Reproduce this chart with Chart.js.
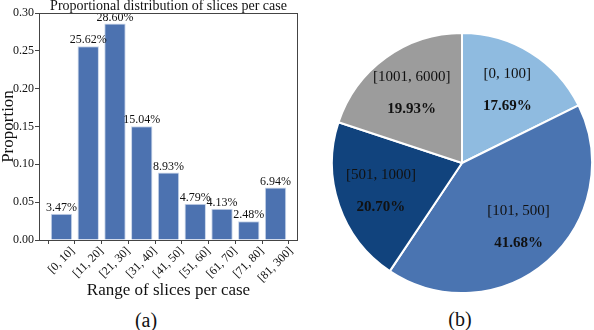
<!DOCTYPE html>
<html>
<head>
<meta charset="utf-8">
<script src="https://cdn.jsdelivr.net/npm/chart.js@4.4.1/dist/chart.umd.min.js"></script>
<style>
  body { margin: 0; background: #fff; width: 594px; height: 330px; position: relative; overflow: hidden; font-family: "Liberation Serif", "Times New Roman", serif; }
  #barBox { position: absolute; left: 0; top: 0; width: 300px; height: 301px; }
  #pieBox { position: absolute; left: 331px; top: 32px; width: 262px; height: 262px; }
  .cap { position: absolute; font-size: 20px; color: #111; transform: translate(-50%, -50%); }
</style>
</head>
<body>
<div id="barBox"><canvas id="bar"></canvas></div>
<div id="pieBox"><canvas id="pie"></canvas></div>
<div class="cap" style="left:146px; top:320px;">(a)</div>
<div class="cap" style="left:460px; top:319px;">(b)</div>

<script>
const serif = "'Liberation Serif', 'Times New Roman', serif";

// left chart: proportion of cases by number of slices
const sliceRanges = ["[0, 10]", "[11, 20]", "[21, 30]", "[31, 40]", "[41, 50]", "[51, 60]", "[61, 70]", "[71, 80]", "[81, 300]"];
const sliceProps = [0.0347, 0.2562, 0.2860, 0.1504, 0.0893, 0.0479, 0.0413, 0.0248, 0.0694];
const yTicks = [0, 0.05, 0.10, 0.15, 0.20, 0.25, 0.30];

// right chart: same thing with bigger ranges
const pieRanges = ["[0, 100]", "[101, 500]", "[501, 1000]", "[1001, 6000]"];
const piePcts = [17.69, 41.68, 20.70, 19.93];
const pieColors = ["#8fbbe0", "#4a74b1", "#11437d", "#9c9c9c"];

const frame = {
  id: "frame",
  afterDraw(chart) {
    const a = chart.chartArea;
    const ctx = chart.ctx;
    ctx.save();
    ctx.strokeStyle = "#444";
    ctx.lineWidth = 1;
    ctx.strokeRect(Math.round(a.left) + 0.5, Math.round(a.top) + 0.5, Math.round(a.right - a.left) - 1, Math.round(a.bottom - a.top));
    ctx.restore();
  }
};

// value on top of each bar + rotated category names centred under the ticks
const barLabels = {
  id: "barLabels",
  afterDatasetsDraw(chart) {
    const ctx = chart.ctx;
    const meta = chart.getDatasetMeta(0);
    ctx.save();
    ctx.font = "12px " + serif;
    ctx.fillStyle = "#111";
    ctx.textAlign = "center";
    ctx.textBaseline = "bottom";
    meta.data.forEach((bar, i) => {
      ctx.fillText((sliceProps[i] * 100).toFixed(2) + "%", bar.x, bar.y);
    });

    const xs = chart.scales.x;
    const top = chart.chartArea.bottom + 5;
    const fh = 12;
    ctx.textBaseline = "middle";
    sliceRanges.forEach((lab, i) => {
      const w = ctx.measureText(lab).width;
      const h = (w + fh) * Math.SQRT1_2;
      ctx.save();
      ctx.translate(xs.getPixelForValue(i), top + h / 2);
      ctx.rotate(-Math.PI / 4);
      ctx.fillText(lab, 0, 0);
      ctx.restore();
    });
    ctx.restore();
  }
};

const barChart = new Chart(document.getElementById("bar"), {
  type: "bar",
  data: {
    datasets: [{
      data: sliceProps.map((v, i) => ({ x: i, y: v })),
      backgroundColor: "#4c72b0",
      borderColor: "#c9d6ea",
      borderWidth: 1,
      barPercentage: 0.8,
      categoryPercentage: 1
    }]
  },
  options: {
    responsive: true,
    maintainAspectRatio: false,
    animation: false,
    layout: { padding: { left: 0, right: 2, top: 0, bottom: 0 } },
    plugins: {
      legend: { display: false },
      tooltip: { enabled: false },
      title: {
        display: true,
        fullSize: false,
        text: "Proportional distribution of slices per case",
        color: "#111",
        font: { family: serif, size: 14, weight: "normal", lineHeight: 0.93 },
        padding: 0
      }
    },
    scales: {
      x: {
        type: "linear",
        offset: false,
        min: -0.84,
        max: 8.84,
        afterBuildTicks: (s) => { s.ticks = sliceRanges.map((c, i) => ({ value: i })); },
        afterFit: (s) => { s.height = 61; },
        ticks: { display: false },
        grid: { drawOnChartArea: false, tickLength: 4, color: "#444" },
        border: { display: false },
        title: {
          display: true,
          text: "Range of slices per case",
          color: "#111",
          font: { family: serif, size: 17, lineHeight: 1.2 },
          padding: 0
        }
      },
      y: {
        min: 0,
        max: 0.3,
        afterBuildTicks: (s) => { s.ticks = yTicks.map((v) => ({ value: v })); },
        afterFit: (s) => { s.width = 39; },
        ticks: {
          padding: 1,
          color: "#111",
          font: { family: serif, size: 12 },
          callback: (v) => v.toFixed(2)
        },
        grid: { drawOnChartArea: false, tickLength: 4, color: "#444" },
        border: { display: false },
        title: {
          display: true,
          text: "Proportion",
          color: "#111",
          font: { family: serif, size: 17, lineHeight: 1 },
          padding: 0
        }
      }
    }
  },
  plugins: [frame, barLabels]
});

const pieText = {
  id: "pieText",
  afterDatasetsDraw(chart) {
    const ctx = chart.ctx;
    const meta = chart.getDatasetMeta(0);
    ctx.save();
    ctx.fillStyle = "#111";
    ctx.textAlign = "center";
    ctx.textBaseline = "middle";
    meta.data.forEach((arc, i) => {
      const mid = (arc.startAngle + arc.endAngle) / 2;
      const r = arc.outerRadius * 0.66;
      const cx = arc.x + Math.cos(mid) * r;
      const cy = arc.y + Math.sin(mid) * r;
      ctx.font = "15px " + serif;
      ctx.fillText(pieRanges[i], cx, cy - 16);
      ctx.font = "bold 15px " + serif;
      ctx.fillText(piePcts[i].toFixed(2) + "%", cx, cy + 16);
    });
    ctx.restore();
  }
};

const pieChart = new Chart(document.getElementById("pie"), {
  type: "pie",
  data: {
    labels: pieRanges,
    datasets: [{
      data: piePcts,
      backgroundColor: pieColors,
      borderColor: "#fff",
      borderWidth: 2
    }]
  },
  options: {
    responsive: true,
    maintainAspectRatio: false,
    animation: false,
    layout: { padding: 0 },
    plugins: {
      legend: { display: false },
      tooltip: { enabled: false }
    }
  },
  plugins: [pieText]
});
</script>
</body>
</html>
